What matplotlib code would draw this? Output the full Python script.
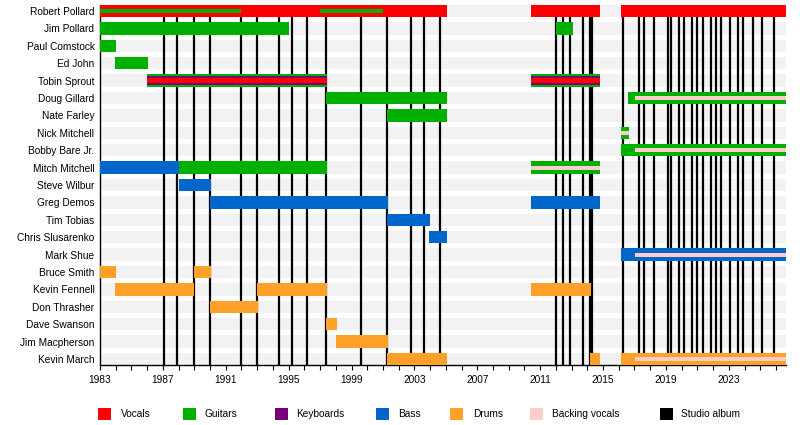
import matplotlib
matplotlib.use("Agg")
import matplotlib.pyplot as plt
from matplotlib.patches import Rectangle
from matplotlib.ticker import MultipleLocator

plt.rcParams['font.family'] = ['Liberation Sans', 'DejaVu Sans']

START = 1983.0
END = 2026.64

members = ["Robert Pollard", "Jim Pollard", "Paul Comstock", "Ed John", "Tobin Sprout",
           "Doug Gillard", "Nate Farley", "Nick Mitchell", "Bobby Bare Jr.", "Mitch Mitchell",
           "Steve Wilbur", "Greg Demos", "Tim Tobias", "Chris Slusarenko", "Mark Shue",
           "Bruce Smith", "Kevin Fennell", "Don Thrasher", "Dave Swanson", "Jim Macpherson",
           "Kevin March"]

# full-height bars: (member, start, end)
vocals = [("Robert Pollard", 1983.0, 2005.07), ("Robert Pollard", 2010.42, 2014.8),
          ("Robert Pollard", 2016.14, END)]
guitars = [("Jim Pollard", 1983.0, 1995.0), ("Jim Pollard", 2012.0, 2013.09),
           ("Paul Comstock", 1983.0, 1984.0), ("Ed John", 1983.95, 1986.05),
           ("Tobin Sprout", 1986.0, 1997.44), ("Tobin Sprout", 2010.42, 2014.8),
           ("Doug Gillard", 1997.36, 2005.07), ("Doug Gillard", 2016.6, END),
           ("Nate Farley", 2001.23, 2005.07), ("Nick Mitchell", 2016.14, 2016.65),
           ("Bobby Bare Jr.", 2016.14, END), ("Mitch Mitchell", 1988.0, 1997.44),
           ("Mitch Mitchell", 2010.42, 2014.8)]
bass = [("Mitch Mitchell", 1983.0, 1988.0), ("Steve Wilbur", 1988.0, 1990.04),
        ("Greg Demos", 1990.0, 2001.3), ("Greg Demos", 2010.42, 2014.8),
        ("Tim Tobias", 2001.23, 2004.0), ("Chris Slusarenko", 2003.93, 2005.07),
        ("Mark Shue", 2016.14, END)]
drums = [("Bruce Smith", 1983.0, 1984.0), ("Bruce Smith", 1988.96, 1990.04),
         ("Kevin Fennell", 1983.95, 1989.0), ("Kevin Fennell", 1993.0, 1997.42),
         ("Kevin Fennell", 2010.42, 2014.23), ("Don Thrasher", 1990.0, 1993.03),
         ("Dave Swanson", 1997.35, 1998.05), ("Jim Macpherson", 1998.0, 2001.3),
         ("Kevin March", 2001.23, 2005.07), ("Kevin March", 2014.14, 2014.8),
         ("Kevin March", 2016.14, END)]

# secondary roles drawn as thinner stripes
keyboards_2nd = [("Tobin Sprout", 1986.0, 1997.44), ("Tobin Sprout", 2010.42, 2014.8)]
vocals_3rd = [("Tobin Sprout", 1986.0, 1997.44), ("Tobin Sprout", 2010.42, 2014.8)]
guitars_2nd = [("Robert Pollard", 1983.0, 1992.0), ("Robert Pollard", 1997.0, 2001.0)]
backing_vocals = [("Doug Gillard", 2017.03, END), ("Nick Mitchell", 2016.14, 2016.65),
                  ("Bobby Bare Jr.", 2017.03, END), ("Mitch Mitchell", 2010.42, 2014.8),
                  ("Mark Shue", 2017.03, END), ("Kevin March", 2017.03, END)]

studio_albums = [1987.05, 1987.9, 1988.96, 1989.98, 1991.95, 1992.96, 1994.4, 1995.2,
                 1996.2, 1997.36, 1999.6, 2001.24, 2002.78, 2003.6, 2004.63,
                 2011.99, 2012.45, 2012.9, 2013.73, 2014.2, 2014.33,
                 2016.29, 2017.26, 2017.58, 2018.24, 2019.11, 2019.3, 2019.83, 2020.15,
                 2020.66, 2020.98, 2021.36, 2021.85, 2022.19, 2022.5, 2023.08, 2023.59,
                 2023.9, 2024.54, 2025.11, 2025.87]

roles = ["Vocals", "Guitars", "Keyboards", "Bass", "Drums", "Backing vocals", "Studio album"]
colors = {"Vocals": "#ff0000", "Guitars": "#00b000", "Keyboards": "#780078",
          "Bass": "#0066cc", "Drums": "#ffa028", "Backing vocals": "#ffcccc",
          "Studio album": "#000000"}

BAR_H = 0.71
row = {m: i for i, m in enumerate(members)}

fig = plt.figure(figsize=(8, 4.25), dpi=100)
ax = fig.add_axes([100 / 800, 60 / 425, 686 / 800, 360 / 425])

# background stripes
ax.barh(range(len(members)), END - START, left=START, height=BAR_H,
        color="#f2f2f2", zorder=1)

ax.vlines(studio_albums, -0.35, len(members) - 0.65, color="black", lw=1.6, zorder=2)


def draw(spans, color, h, offset=0.0):
    for m, s, e in spans:
        ax.barh(row[m] + offset, e - s, left=s, height=h, color=color, zorder=3, linewidth=0)


draw(vocals, colors["Vocals"], BAR_H)
draw(guitars, colors["Guitars"], BAR_H)
draw(bass, colors["Bass"], BAR_H)
draw(drums, colors["Drums"], BAR_H)
draw(keyboards_2nd, colors["Keyboards"], BAR_H * 0.7)
draw(vocals_3rd, colors["Vocals"], BAR_H * 0.43)
draw(guitars_2nd, colors["Guitars"], BAR_H * 0.33, offset=-0.03)
draw(backing_vocals, colors["Backing vocals"], BAR_H * 0.33)

ax.set_xlim(START, END)
ax.set_ylim(len(members) - 0.65, -0.35)
ax.set_yticks(range(len(members)))
ax.set_yticklabels(members, fontsize=7.3)
ax.tick_params(axis="y", length=0, pad=4)
ax.xaxis.set_major_locator(MultipleLocator(4))
ax.xaxis.set_minor_locator(MultipleLocator(1))
ax.set_xticks(range(1983, 2027, 4))
ax.tick_params(axis="x", which="both", length=3.5, width=0.8, labelsize=7.3, pad=3.5)
for side in ("top", "right"):
    ax.spines[side].set_visible(False)
ax.spines["left"].set_linewidth(1)
ax.spines["bottom"].set_linewidth(1)

# legend along the bottom
sq_x = [98, 183, 275, 376, 450, 530, 660]
txt_x = [121, 205, 296, 398, 473, 552, 681]
for r, sx, tx in zip(roles, sq_x, txt_x):
    fig.add_artist(Rectangle((sx / 800, (425 - 420) / 425), 12.5 / 800, 12.5 / 425,
                             transform=fig.transFigure, color=colors[r], lw=0))
    fig.text(tx / 800, (425 - 414) / 425, r, fontsize=7.3, va="center", ha="left")

fig.savefig("out.png", dpi=100)
